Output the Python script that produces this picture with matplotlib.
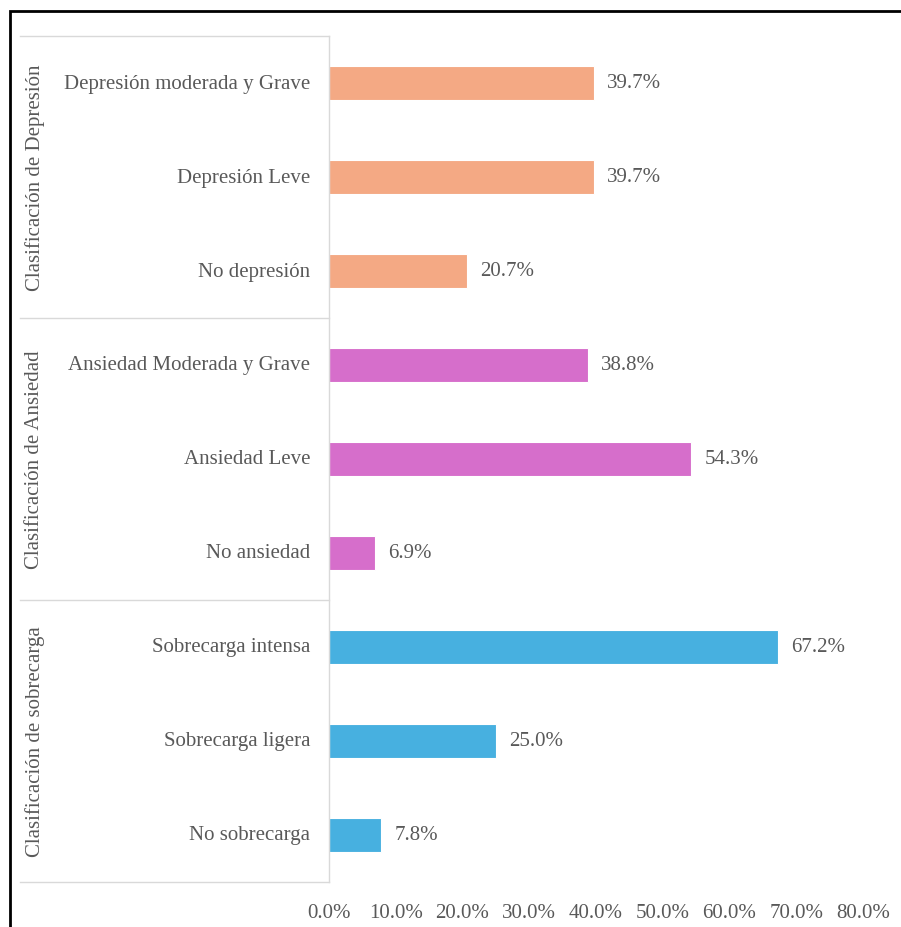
"""
Clasificación de sobrecarga, ansiedad y depresión - barras horizontales.
"""

import matplotlib
matplotlib.use("Agg")
import matplotlib.pyplot as plt
from matplotlib.patches import Rectangle
from matplotlib.lines import Line2D

# categorías de abajo hacia arriba
CATEGORIAS = ["No sobrecarga", "Sobrecarga ligera", "Sobrecarga intensa",
              "No ansiedad", "Ansiedad Leve", "Ansiedad Moderada y Grave",
              "No depresión", "Depresión Leve", "Depresión moderada y Grave"]
VALORES = [7.8, 25.0, 67.2, 6.9, 54.3, 38.8, 20.7, 39.7, 39.7]
GRUPOS = ["Clasificación de sobrecarga", "Clasificación de Ansiedad",
          "Clasificación de Depresión"]
COLORES_GRUPO = ["#47B0E0", "#D66ECB", "#F4A984"]
TICKS = [0, 10, 20, 30, 40, 50, 60, 70, 80]

GRIS = "#595959"
FUENTE = "Liberation Serif"
TAM = 15

W, H = 901, 928
fig = plt.figure(figsize=(W/100, H/100), dpi=100)
ax = fig.add_axes([329/W, 1-883/H, 534/W, 846/H])

colores = [COLORES_GRUPO[i // 3] for i in range(len(CATEGORIAS))]
y = list(range(len(CATEGORIAS)))
ax.barh(y, VALORES, height=0.36, color=colores, edgecolor="white", linewidth=0.8)

for yi, v in zip(y, VALORES):
    ax.text(v + 2, yi, f"{v:.1f}%", va="center", ha="left",
            fontsize=TAM, color=GRIS, family=FUENTE)

ax.set_xlim(0, 80)
ax.set_ylim(-0.5, len(CATEGORIAS) - 0.5)
ax.set_xticks(TICKS)
ax.set_xticklabels([f"{t:.1f}%" for t in TICKS], fontsize=TAM, color=GRIS, family=FUENTE)
ax.tick_params(axis="x", length=0, pad=15)
ax.set_yticks([])
for s in ["top", "right", "bottom"]:
    ax.spines[s].set_visible(False)
ax.spines["left"].set_color("#D9D9D9")
ax.spines["left"].set_linewidth(1)

# etiquetas de categorías
for yi, c in zip(y, CATEGORIAS):
    ax.text(-19 / 534 * 80, yi, c, ha="right", va="center",
            fontsize=TAM, color=GRIS, family=FUENTE)

# separadores y títulos de grupo
trans = ax.get_yaxis_transform()
for k in range(len(GRUPOS) + 1):
    yl = k * 3 - 0.5
    ax.add_line(Line2D([(20 - 329) / 534, 0], [yl, yl], transform=trans,
                       color="#D9D9D9", lw=1, clip_on=False))
for k, g in enumerate(GRUPOS):
    ax.text((35 - 329) / 534, k * 3 + 1, g, rotation=90, ha="center", va="center",
            transform=trans, fontsize=TAM, color=GRIS, family=FUENTE)

# marco negro del recuadro
fig.patches.append(Rectangle((10/W, -0.05), 1.1, 1 - 12/H + 0.05, transform=fig.transFigure,
                             fill=False, edgecolor="black", linewidth=2))

fig.savefig("out.png", dpi=100)
